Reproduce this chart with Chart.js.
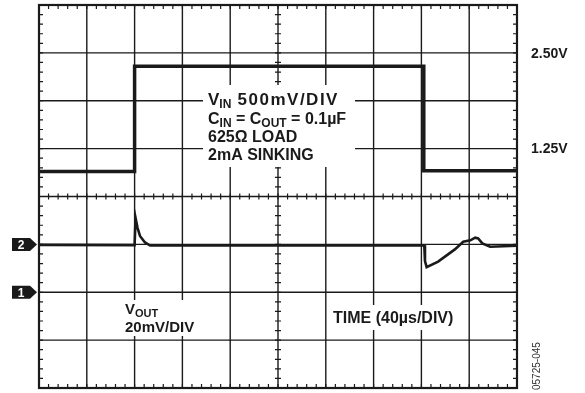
<!DOCTYPE html>
<html>
<head>
<meta charset="utf-8">
<script src="https://cdn.jsdelivr.net/npm/chart.js@4/dist/chart.umd.min.js"></script>
<style>
  body { margin: 0; background: #fff; }
  #wrap { width: 585px; height: 393px; position: relative; }
</style>
</head>
<body>
<div id="wrap"><canvas id="scope"></canvas></div>
<script>
// Scope capture: VIN step (ch1, 500mV/DIV) and VOUT response (ch2, 20mV/DIV), 40us/DIV

// ch1 - input step, volts above the ch1 ground marker
const vinTime = [0, 80, 80, 322, 322, 400];
const vinVolts = [1.26, 1.26, 2.36, 2.36, 1.27, 1.27];

// ch2 - output deviation, mV above the ch2 ground marker
const voutTime = [0, 80, 80.8, 82.4, 84.5, 88.7, 93, 150, 250, 322.4, 323, 324.4, 334, 348, 355, 361, 365, 367.5, 371, 377.5, 400];
const voutMv = [-0.2, -0.3, 11, 7, 3.5, 0.8, -0.5, -0.5, -0.4, -0.4, -7, -9.5, -7.2, -2.1, 1.1, 1.7, 2.8, 2.5, 0.4, -1.0, -0.6];

// screen settings
const TIME_PER_DIV = 40;   // us
const VIN_PER_DIV = 0.5;   // V
const VOUT_PER_DIV = 20;   // mV
const levelLabels = [{ text: '2.50V', v: 2.5 }, { text: '1.25V', v: 1.5 }];

const FONT = '"Liberation Sans", Arial, Helvetica, sans-serif';
const INK = '#1a1a1a';

function toPoints(xs, ys) {
  return xs.map((x, i) => ({ x, y: ys[i] }));
}

// text runs: [string, isSubscript, letterSpacing]
function drawRuns(ctx, x, y, runs, size) {
  let cx = x;
  runs.forEach(([txt, sub, spacing]) => {
    ctx.font = 'bold ' + (sub ? Math.round(size * 0.72) : size) + 'px ' + FONT;
    ctx.letterSpacing = spacing || '0px';
    ctx.fillText(txt, cx, sub ? y + 3 : y);
    cx += ctx.measureText(txt).width;
  });
  ctx.letterSpacing = '0px';
}

const graticule = {
  id: 'graticule',
  beforeDatasetsDraw(chart) {
    const { ctx, chartArea: a, scales } = chart;
    const x = scales.x, y = scales.y;
    ctx.save();
    ctx.strokeStyle = INK;
    ctx.lineWidth = 1.4;
    ctx.beginPath();
    for (let t = 0; t <= 400; t += TIME_PER_DIV) {
      const px = x.getPixelForValue(t);
      ctx.moveTo(px, a.top); ctx.lineTo(px, a.bottom);
    }
    for (let v = -1; v <= 3.001; v += VIN_PER_DIV) {
      const py = y.getPixelForValue(v);
      ctx.moveTo(a.left, py); ctx.lineTo(a.right, py);
    }
    ctx.stroke();

    // minor ticks, 5 per division, on the border and the centre lines
    const xc = x.getPixelForValue(200), yc = y.getPixelForValue(1);
    ctx.lineWidth = 1.2;
    ctx.beginPath();
    for (let t = 0; t <= 400; t += TIME_PER_DIV / 5) {
      const px = x.getPixelForValue(t);
      ctx.moveTo(px, a.top); ctx.lineTo(px, a.top + 4);
      ctx.moveTo(px, a.bottom); ctx.lineTo(px, a.bottom - 4);
      ctx.moveTo(px, yc - 3); ctx.lineTo(px, yc + 3);
    }
    for (let v = -1; v <= 3.001; v += VIN_PER_DIV / 5) {
      const py = y.getPixelForValue(v);
      ctx.moveTo(a.left, py); ctx.lineTo(a.left + 4, py);
      ctx.moveTo(a.right, py); ctx.lineTo(a.right - 4, py);
      ctx.moveTo(xc - 3, py); ctx.lineTo(xc + 3, py);
    }
    ctx.stroke();

    ctx.lineWidth = 2.2;
    ctx.strokeRect(a.left, a.top, a.right - a.left, a.bottom - a.top);

    // white patches behind the notes
    ctx.fillStyle = '#fff';
    ctx.fillRect(203, 85, 152, 82);
    ctx.fillRect(120, 300, 80, 36);
    ctx.fillRect(330, 305, 128, 25);
    ctx.restore();
  },
  afterDraw(chart) {
    const { ctx, scales } = chart;
    ctx.save();
    ctx.fillStyle = INK;
    ctx.textBaseline = 'alphabetic';
    drawRuns(ctx, 208, 105, [['V'], ['IN', true], [' 500mV/DIV', false, '1.5px']], 17);
    drawRuns(ctx, 208, 124, [['C'], ['IN', true], [' = C'], ['OUT', true], [' = 0.1\u00b5F']], 16);
    drawRuns(ctx, 208, 142, [['625\u03a9 LOAD']], 16);
    drawRuns(ctx, 208, 160, [['2mA SINKING']], 16);
    drawRuns(ctx, 125, 314, [['V'], ['OUT', true]], 15);
    drawRuns(ctx, 125, 332, [['20mV/DIV']], 15);
    drawRuns(ctx, 333, 323, [['TIME (40\u00b5s/DIV)']], 16);

    // level labels at the right
    ctx.font = 'bold 14px ' + FONT;
    ctx.textBaseline = 'middle';
    levelLabels.forEach(l => ctx.fillText(l.text, 531, scales.y.getPixelForValue(l.v) + 1));

    // channel ground markers
    const markers = [['2', scales.y2.getPixelForValue(0)], ['1', scales.y.getPixelForValue(0)]];
    markers.forEach(([n, py]) => {
      ctx.fillStyle = INK;
      ctx.beginPath();
      ctx.moveTo(12, py - 6.5); ctx.lineTo(30, py - 6.5); ctx.lineTo(37, py);
      ctx.lineTo(30, py + 6.5); ctx.lineTo(12, py + 6.5); ctx.closePath();
      ctx.fill();
      ctx.fillStyle = '#fff';
      ctx.font = 'bold 12px ' + FONT;
      ctx.textAlign = 'center';
      ctx.fillText(n, 21, py + 1);
    });

    // figure code, rotated
    ctx.translate(537, 390);
    ctx.rotate(-Math.PI / 2);
    ctx.fillStyle = '#333';
    ctx.font = '10px ' + FONT;
    ctx.textAlign = 'left';
    ctx.textBaseline = 'middle';
    ctx.fillText('05725-045', 0, 0);
    ctx.restore();
  }
};

new Chart(document.getElementById('scope'), {
  type: 'line',
  data: {
    datasets: [
      { label: 'VIN', data: toPoints(vinTime, vinVolts), yAxisID: 'y', borderColor: INK, borderWidth: 3.5 },
      { label: 'VOUT', data: toPoints(voutTime, voutMv), yAxisID: 'y2', borderColor: INK, borderWidth: 2.6 },
    ],
  },
  options: {
    responsive: true,
    maintainAspectRatio: false,
    animation: false,
    layout: { padding: { left: 39, right: 68, top: 5, bottom: 5 } },
    elements: { point: { radius: 0 }, line: { tension: 0, borderJoinStyle: 'miter' } },
    plugins: { legend: { display: false }, tooltip: { enabled: false } },
    scales: {
      x: { type: 'linear', min: 0, max: 400, display: false },
      y: { min: -1, max: 3, display: false },
      y2: { min: -60, max: 100, display: false },
    },
  },
  plugins: [graticule],
});
</script>
</body>
</html>
